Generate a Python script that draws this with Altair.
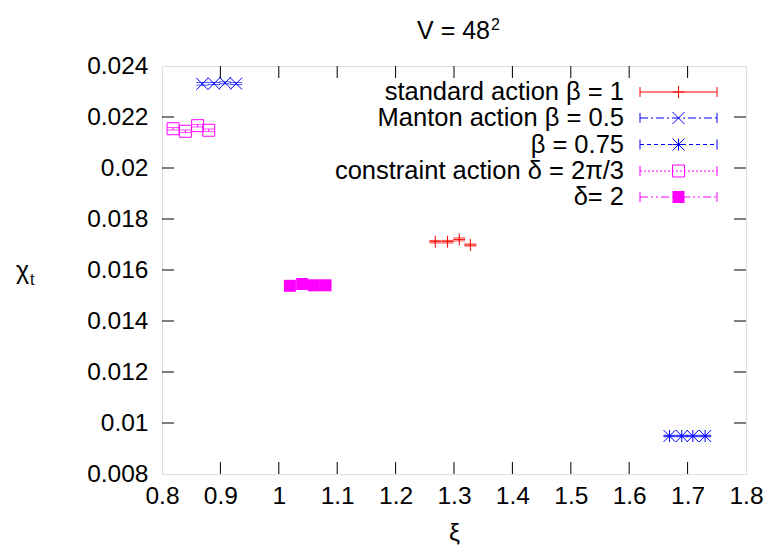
import altair as alt
import pandas as pd

# ---------------- data ----------------
series_names = ["standard action β = 1", "Manton action β = 0.5", "β = 0.75",
                "constraint action δ = 2π/3", "δ= 2"]
series_colors = ["#ff0000", "#0000ff", "#0000ff", "#ff00ff", "#ff00ff"]

xi_standard = [1.268, 1.289, 1.309, 1.328]
chi_standard = [0.01711, 0.01711, 0.01720, 0.01698]
err_standard = [0.00005, 0.00005, 0.00006, 0.00004]

xi_manton05 = [0.869, 0.889, 0.908, 0.927]
chi_manton05 = [0.02330, 0.02331, 0.02334, 0.02331]
err_manton05 = [0.00005, 0.00004, 0.00004, 0.00004]

xi_manton075 = [1.669, 1.690, 1.709, 1.730]
chi_manton075 = [0.00949, 0.00949, 0.00949, 0.00949]
err_manton075 = [0.00003, 0.00003, 0.00003, 0.00003]

xi_constr23 = [0.819, 0.840, 0.861, 0.880]
chi_constr23 = [0.02154, 0.02144, 0.02166, 0.02148]
err_constr23 = [0.00005, 0.00005, 0.00005, 0.00005]

xi_constr2 = [1.019, 1.040, 1.060, 1.080]
chi_constr2 = [0.01538, 0.01545, 0.01540, 0.01540]
err_constr2 = [0.00005, 0.00005, 0.00005, 0.00005]

x_ticks = [0.8, 0.9, 1.0, 1.1, 1.2, 1.3, 1.4, 1.5, 1.6, 1.7, 1.8]
y_ticks = [0.008, 0.01, 0.012, 0.014, 0.016, 0.018, 0.02, 0.022, 0.024]

title_main = "V = 48"
title_sup = "2"
ytitle_main = "χ"
ytitle_sub = "t"

# ---------------- styles ----------------
W, H = 584, 408
FONT = "Liberation Sans"
FS = 24.5
LFS = 25.5
PLUS = "M-1,0L1,0M0,-1L0,1"
CROSS = "M-1,-1L1,1M-1,1L1,-1"
STAR = PLUS + "M-1,-1L1,1M-1,1L1,-1"
shapes = [PLUS, CROSS, STAR, "square", "square"]
filled = [False, False, False, False, True]
dashes = [[1, 0], [8, 3, 2, 3], [4, 3], [2, 2], [8, 3, 2, 3, 2, 3]]

xs = [xi_standard, xi_manton05, xi_manton075, xi_constr23, xi_constr2]
ys = [chi_standard, chi_manton05, chi_manton075, chi_constr23, chi_constr2]
es = [err_standard, err_manton05, err_manton075, err_constr23, err_constr2]

X_SCALE = alt.Scale(domain=[0.8, 1.8], nice=False, zero=False)
Y_SCALE = alt.Scale(domain=[0.008, 0.024], nice=False, zero=False)
X_AXIS = alt.Axis(values=x_ticks, format="~g", ticks=False, domain=False, grid=False,
                  labelFontSize=FS, labelFont=FONT, labelColor="black", labelPadding=10,
                  labelFlush=False, title="ξ", titleFont=FONT, titleFontSize=FS,
                  titleFontWeight="normal", titleColor="black", titlePadding=14)
Y_AXIS = alt.Axis(values=y_ticks, format="~g", ticks=False, domain=False, grid=False,
                  labelFontSize=FS, labelFont=FONT, labelColor="black", labelPadding=14,
                  labelFlush=False, title=None)


def xenc():
    return alt.X("xi:Q", scale=X_SCALE, axis=X_AXIS)


def yenc(field="chi"):
    return alt.Y(f"{field}:Q", scale=Y_SCALE, axis=Y_AXIS)


layers = []

# data series
for i in range(5):
    df = pd.DataFrame({"xi": xs[i], "chi": ys[i], "err": es[i]})
    df["lo"] = df["chi"] - df["err"]
    df["hi"] = df["chi"] + df["err"]
    c = series_colors[i]
    base = alt.Chart(df)
    layers.append(base.mark_rule(color=c, strokeWidth=1).encode(
        x=xenc(), y=yenc("lo"), y2="hi:Q"))
    layers.append(base.mark_tick(color=c, orient="horizontal", size=12, thickness=1).encode(
        x=xenc(), y=yenc("lo")))
    layers.append(base.mark_tick(color=c, orient="horizontal", size=12, thickness=1).encode(
        x=xenc(), y=yenc("hi")))
    layers.append(base.mark_point(shape=shapes[i], filled=filled[i], size=144,
                                  color=c, strokeWidth=1, opacity=1).encode(
        x=xenc(), y=yenc()))

# inward ticks (mirrored on all sides)
tx = pd.DataFrame({"xi": x_ticks[1:-1]})
ty = pd.DataFrame({"chi": y_ticks[1:-1]})
TL = 12
layers.append(alt.Chart(tx).mark_rule(color="black", strokeWidth=1).encode(
    x=xenc(), y=alt.value(H), y2=alt.value(H - TL)))
layers.append(alt.Chart(tx).mark_rule(color="black", strokeWidth=1).encode(
    x=xenc(), y=alt.value(0), y2=alt.value(TL)))
layers.append(alt.Chart(ty).mark_rule(color="black", strokeWidth=1).encode(
    y=yenc(), x=alt.value(0), x2=alt.value(TL)))
layers.append(alt.Chart(ty).mark_rule(color="black", strokeWidth=1).encode(
    y=yenc(), x=alt.value(W), x2=alt.value(W - TL)))

# legend (drawn by hand, top-right inside the frame)
LX_TEXT, LX1, LX2 = 462, 478, 555
LXM = (LX1 + LX2) / 2
row_y = [26, 52, 78.5, 105, 131]
for i in range(5):
    one = alt.Chart(pd.DataFrame({"label": [series_names[i]]}))
    c = series_colors[i]
    y0 = row_y[i]
    layers.append(one.mark_text(align="right", baseline="middle", font=FONT,
                                fontSize=LFS, color="black").encode(
        x=alt.value(LX_TEXT), y=alt.value(y0), text="label:N"))
    layers.append(one.mark_rule(color=c, strokeWidth=1, strokeDash=dashes[i]).encode(
        x=alt.value(LX1), x2=alt.value(LX2), y=alt.value(y0)))
    layers.append(one.mark_rule(color=c, strokeWidth=1).encode(
        x=alt.value(LX1), y=alt.value(y0 - 5), y2=alt.value(y0 + 5)))
    layers.append(one.mark_rule(color=c, strokeWidth=1).encode(
        x=alt.value(LX2), y=alt.value(y0 - 5), y2=alt.value(y0 + 5)))
    layers.append(one.mark_point(shape=shapes[i], filled=filled[i], size=144,
                                 color=c, strokeWidth=1, opacity=1).encode(
        x=alt.value(LXM), y=alt.value(y0)))


def label(text, x, y, size, align="left"):
    return alt.Chart(pd.DataFrame({"s": [text]})).mark_text(
        align=align, baseline="alphabetic", font=FONT, fontSize=size, color="black"
    ).encode(x=alt.value(x), y=alt.value(y), text="s:N")


# y-axis title chi_t
layers.append(label(ytitle_main, -146, 213, 25))
layers.append(label(ytitle_sub, -132, 219, 16))
# chart title V = 48^2
layers.append(label(title_main, 328, -27, 25, align="right"))
layers.append(label(title_sup, 329, -36, 16))

chart = alt.layer(*layers).properties(
    width=W, height=H,
    autosize=alt.AutoSizeParams(type="none"),
    padding={"left": 154, "top": 58, "right": 20, "bottom": 75},
).configure_view(stroke="black", strokeWidth=1.5).configure(background="white")

chart.save("out.html", embed_options={"renderer": "svg", "actions": False})
